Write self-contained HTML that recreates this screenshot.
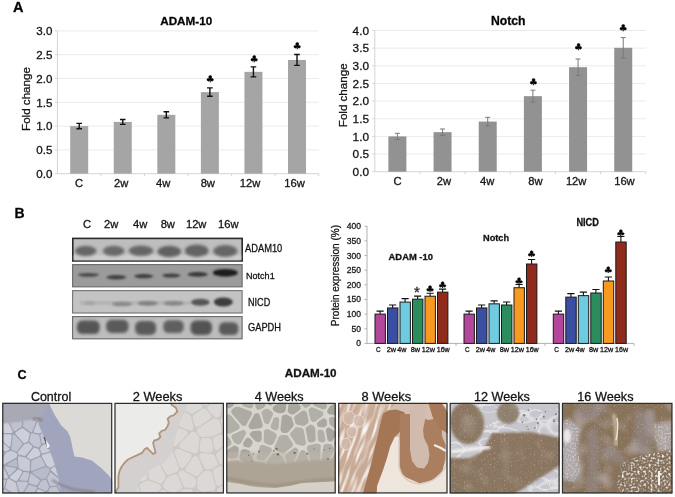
<!DOCTYPE html><html><head><meta charset="utf-8"><style>html,body{margin:0;padding:0;background:#fff;}svg{display:block;} text{stroke:#1a1a1a;stroke-width:0.3px;}</style></head><body><svg width="675" height="497" viewBox="0 0 675 497" font-family='"Liberation Sans", Arial, sans-serif'><text x="13.00" y="11.90" font-size="14.5" text-anchor="start" font-weight="bold" fill="#000" >A</text>
<line x1="57.42" y1="149.90" x2="318.78" y2="149.90" stroke="#ebebeb" stroke-width="1"/>
<line x1="57.42" y1="126.10" x2="318.78" y2="126.10" stroke="#ebebeb" stroke-width="1"/>
<line x1="57.42" y1="102.30" x2="318.78" y2="102.30" stroke="#ebebeb" stroke-width="1"/>
<line x1="57.42" y1="78.50" x2="318.78" y2="78.50" stroke="#ebebeb" stroke-width="1"/>
<line x1="57.42" y1="54.70" x2="318.78" y2="54.70" stroke="#ebebeb" stroke-width="1"/>
<line x1="57.42" y1="30.90" x2="318.78" y2="30.90" stroke="#ebebeb" stroke-width="1"/>
<line x1="57.42" y1="30.90" x2="57.42" y2="173.7" stroke="#d4d4d4" stroke-width="1"/>
<line x1="57.42" y1="173.7" x2="318.78" y2="173.7" stroke="#d4d4d4" stroke-width="1"/>
<line x1="54.92" y1="173.70" x2="57.42" y2="173.70" stroke="#d4d4d4" stroke-width="1"/>
<text x="52.40" y="177.90" font-size="11.6" text-anchor="end" font-weight="normal" fill="#111" >0.0</text>
<line x1="54.92" y1="149.90" x2="57.42" y2="149.90" stroke="#d4d4d4" stroke-width="1"/>
<text x="52.40" y="154.10" font-size="11.6" text-anchor="end" font-weight="normal" fill="#111" >0.5</text>
<line x1="54.92" y1="126.10" x2="57.42" y2="126.10" stroke="#d4d4d4" stroke-width="1"/>
<text x="52.40" y="130.30" font-size="11.6" text-anchor="end" font-weight="normal" fill="#111" >1.0</text>
<line x1="54.92" y1="102.30" x2="57.42" y2="102.30" stroke="#d4d4d4" stroke-width="1"/>
<text x="52.40" y="106.50" font-size="11.6" text-anchor="end" font-weight="normal" fill="#111" >1.5</text>
<line x1="54.92" y1="78.50" x2="57.42" y2="78.50" stroke="#d4d4d4" stroke-width="1"/>
<text x="52.40" y="82.70" font-size="11.6" text-anchor="end" font-weight="normal" fill="#111" >2.0</text>
<line x1="54.92" y1="54.70" x2="57.42" y2="54.70" stroke="#d4d4d4" stroke-width="1"/>
<text x="52.40" y="58.90" font-size="11.6" text-anchor="end" font-weight="normal" fill="#111" >2.5</text>
<line x1="54.92" y1="30.90" x2="57.42" y2="30.90" stroke="#d4d4d4" stroke-width="1"/>
<text x="52.40" y="35.10" font-size="11.6" text-anchor="end" font-weight="normal" fill="#111" >3.0</text>
<line x1="100.98" y1="173.7" x2="100.98" y2="176.2" stroke="#d4d4d4" stroke-width="1"/>
<line x1="144.54" y1="173.7" x2="144.54" y2="176.2" stroke="#d4d4d4" stroke-width="1"/>
<line x1="188.10" y1="173.7" x2="188.10" y2="176.2" stroke="#d4d4d4" stroke-width="1"/>
<line x1="231.66" y1="173.7" x2="231.66" y2="176.2" stroke="#d4d4d4" stroke-width="1"/>
<line x1="275.22" y1="173.7" x2="275.22" y2="176.2" stroke="#d4d4d4" stroke-width="1"/>
<line x1="318.78" y1="173.7" x2="318.78" y2="176.2" stroke="#d4d4d4" stroke-width="1"/>
<rect x="70.20" y="126.10" width="18" height="47.60" fill="#a5a5a5"/>
<path d="M79.20 123.39V128.81M76.40 123.39H82.00M76.40 128.81H82.00" stroke="#111" stroke-width="1.4" fill="none"/>
<text x="79.15" y="186.80" font-size="11.2" text-anchor="middle" font-weight="normal" fill="#111" >C</text>
<rect x="113.76" y="121.91" width="18" height="51.79" fill="#a5a5a5"/>
<path d="M122.76 119.44V124.39M119.96 119.44H125.56M119.96 124.39H125.56" stroke="#111" stroke-width="1.4" fill="none"/>
<text x="121.20" y="186.80" font-size="11.2" text-anchor="middle" font-weight="normal" fill="#111" >2w</text>
<rect x="157.32" y="114.82" width="18" height="58.88" fill="#a5a5a5"/>
<path d="M166.32 111.72V117.91M163.52 111.72H169.12M163.52 117.91H169.12" stroke="#111" stroke-width="1.4" fill="none"/>
<text x="163.10" y="186.80" font-size="11.2" text-anchor="middle" font-weight="normal" fill="#111" >4w</text>
<rect x="200.88" y="92.11" width="18" height="81.59" fill="#a5a5a5"/>
<path d="M209.88 87.92V96.30M207.08 87.92H212.68M207.08 96.30H212.68" stroke="#111" stroke-width="1.4" fill="none"/>
<text x="207.80" y="186.80" font-size="11.2" text-anchor="middle" font-weight="normal" fill="#111" >8w</text>
<text transform="translate(210.00,81.70) scale(1.148,1)" x="0" y="0" font-size="8.90" text-anchor="middle" font-family="DejaVu Sans, sans-serif" fill="#000">&#9827;</text>
<rect x="244.44" y="71.84" width="18" height="101.86" fill="#a5a5a5"/>
<path d="M253.44 66.84V76.83M250.64 66.84H256.24M250.64 76.83H256.24" stroke="#111" stroke-width="1.4" fill="none"/>
<text x="250.00" y="186.80" font-size="11.2" text-anchor="middle" font-weight="normal" fill="#111" >12w</text>
<text transform="translate(254.00,61.90) scale(1.148,1)" x="0" y="0" font-size="8.90" text-anchor="middle" font-family="DejaVu Sans, sans-serif" fill="#000">&#9827;</text>
<rect x="288.00" y="59.94" width="18" height="113.76" fill="#a5a5a5"/>
<path d="M297.00 54.46V65.41M294.20 54.46H299.80M294.20 65.41H299.80" stroke="#111" stroke-width="1.4" fill="none"/>
<text x="294.50" y="186.80" font-size="11.2" text-anchor="middle" font-weight="normal" fill="#111" >16w</text>
<text transform="translate(297.00,49.30) scale(1.148,1)" x="0" y="0" font-size="8.90" text-anchor="middle" font-family="DejaVu Sans, sans-serif" fill="#000">&#9827;</text>
<text x="186.20" y="24.70" font-size="11.7" text-anchor="middle" font-weight="bold" fill="#000" >ADAM-10</text>
<text transform="translate(30.4,99) rotate(-90)" font-size="11.6" text-anchor="middle" fill="#111">Fold change</text>
<line x1="374.8" y1="154.05" x2="645.82" y2="154.05" stroke="#ebebeb" stroke-width="1"/>
<line x1="374.8" y1="136.40" x2="645.82" y2="136.40" stroke="#ebebeb" stroke-width="1"/>
<line x1="374.8" y1="118.75" x2="645.82" y2="118.75" stroke="#ebebeb" stroke-width="1"/>
<line x1="374.8" y1="101.10" x2="645.82" y2="101.10" stroke="#ebebeb" stroke-width="1"/>
<line x1="374.8" y1="83.45" x2="645.82" y2="83.45" stroke="#ebebeb" stroke-width="1"/>
<line x1="374.8" y1="65.80" x2="645.82" y2="65.80" stroke="#ebebeb" stroke-width="1"/>
<line x1="374.8" y1="48.15" x2="645.82" y2="48.15" stroke="#ebebeb" stroke-width="1"/>
<line x1="374.8" y1="30.50" x2="645.82" y2="30.50" stroke="#ebebeb" stroke-width="1"/>
<line x1="374.8" y1="30.50" x2="374.8" y2="171.7" stroke="#d4d4d4" stroke-width="1"/>
<line x1="374.8" y1="171.7" x2="645.82" y2="171.7" stroke="#d4d4d4" stroke-width="1"/>
<line x1="372.3" y1="171.70" x2="374.8" y2="171.70" stroke="#d4d4d4" stroke-width="1"/>
<text x="369.00" y="175.90" font-size="11.8" text-anchor="end" font-weight="normal" fill="#111" >0.0</text>
<line x1="372.3" y1="154.05" x2="374.8" y2="154.05" stroke="#d4d4d4" stroke-width="1"/>
<text x="369.00" y="158.25" font-size="11.8" text-anchor="end" font-weight="normal" fill="#111" >0.5</text>
<line x1="372.3" y1="136.40" x2="374.8" y2="136.40" stroke="#d4d4d4" stroke-width="1"/>
<text x="369.00" y="140.60" font-size="11.8" text-anchor="end" font-weight="normal" fill="#111" >1.0</text>
<line x1="372.3" y1="118.75" x2="374.8" y2="118.75" stroke="#d4d4d4" stroke-width="1"/>
<text x="369.00" y="122.95" font-size="11.8" text-anchor="end" font-weight="normal" fill="#111" >1.5</text>
<line x1="372.3" y1="101.10" x2="374.8" y2="101.10" stroke="#d4d4d4" stroke-width="1"/>
<text x="369.00" y="105.30" font-size="11.8" text-anchor="end" font-weight="normal" fill="#111" >2.0</text>
<line x1="372.3" y1="83.45" x2="374.8" y2="83.45" stroke="#d4d4d4" stroke-width="1"/>
<text x="369.00" y="87.65" font-size="11.8" text-anchor="end" font-weight="normal" fill="#111" >2.5</text>
<line x1="372.3" y1="65.80" x2="374.8" y2="65.80" stroke="#d4d4d4" stroke-width="1"/>
<text x="369.00" y="70.00" font-size="11.8" text-anchor="end" font-weight="normal" fill="#111" >3.0</text>
<line x1="372.3" y1="48.15" x2="374.8" y2="48.15" stroke="#d4d4d4" stroke-width="1"/>
<text x="369.00" y="52.35" font-size="11.8" text-anchor="end" font-weight="normal" fill="#111" >3.5</text>
<line x1="372.3" y1="30.50" x2="374.8" y2="30.50" stroke="#d4d4d4" stroke-width="1"/>
<text x="369.00" y="34.70" font-size="11.8" text-anchor="end" font-weight="normal" fill="#111" >4.0</text>
<line x1="419.97" y1="171.7" x2="419.97" y2="174.2" stroke="#d4d4d4" stroke-width="1"/>
<line x1="465.14" y1="171.7" x2="465.14" y2="174.2" stroke="#d4d4d4" stroke-width="1"/>
<line x1="510.31" y1="171.7" x2="510.31" y2="174.2" stroke="#d4d4d4" stroke-width="1"/>
<line x1="555.48" y1="171.7" x2="555.48" y2="174.2" stroke="#d4d4d4" stroke-width="1"/>
<line x1="600.65" y1="171.7" x2="600.65" y2="174.2" stroke="#d4d4d4" stroke-width="1"/>
<line x1="645.82" y1="171.7" x2="645.82" y2="174.2" stroke="#d4d4d4" stroke-width="1"/>
<rect x="388.38" y="136.40" width="18" height="35.30" fill="#929292"/>
<path d="M397.38 133.29V139.51M394.88 133.29H399.88M394.88 139.51H399.88" stroke="#7a7a7a" stroke-width="1" fill="none"/>
<text x="397.65" y="184.50" font-size="11.2" text-anchor="middle" font-weight="normal" fill="#111" >C</text>
<rect x="433.56" y="132.16" width="18" height="39.54" fill="#929292"/>
<path d="M442.56 128.99V135.34M440.06 128.99H445.06M440.06 135.34H445.06" stroke="#7a7a7a" stroke-width="1" fill="none"/>
<text x="444.00" y="184.50" font-size="11.2" text-anchor="middle" font-weight="normal" fill="#111" >2w</text>
<rect x="478.73" y="121.57" width="18" height="50.13" fill="#929292"/>
<path d="M487.73 117.34V125.81M485.23 117.34H490.23M485.23 125.81H490.23" stroke="#7a7a7a" stroke-width="1" fill="none"/>
<text x="487.25" y="184.50" font-size="11.2" text-anchor="middle" font-weight="normal" fill="#111" >4w</text>
<rect x="523.89" y="96.16" width="18" height="75.54" fill="#929292"/>
<path d="M532.89 90.16V102.16M530.39 90.16H535.39M530.39 102.16H535.39" stroke="#7a7a7a" stroke-width="1" fill="none"/>
<text x="535.35" y="184.50" font-size="11.2" text-anchor="middle" font-weight="normal" fill="#111" >8w</text>
<text transform="translate(533.40,84.60) scale(1.148,1)" x="0" y="0" font-size="8.90" text-anchor="middle" font-family="DejaVu Sans, sans-serif" fill="#000">&#9827;</text>
<rect x="569.07" y="67.21" width="18" height="104.49" fill="#929292"/>
<path d="M578.07 58.99V75.44M575.57 58.99H580.57M575.57 75.44H580.57" stroke="#7a7a7a" stroke-width="1" fill="none"/>
<text x="576.15" y="184.50" font-size="11.2" text-anchor="middle" font-weight="normal" fill="#111" >12w</text>
<text transform="translate(578.30,50.20) scale(1.148,1)" x="0" y="0" font-size="8.90" text-anchor="middle" font-family="DejaVu Sans, sans-serif" fill="#000">&#9827;</text>
<rect x="614.24" y="47.80" width="18" height="123.90" fill="#929292"/>
<path d="M623.24 37.56V58.03M620.74 37.56H625.74M620.74 58.03H625.74" stroke="#7a7a7a" stroke-width="1" fill="none"/>
<text x="624.45" y="184.50" font-size="11.2" text-anchor="middle" font-weight="normal" fill="#111" >16w</text>
<text transform="translate(623.00,31.00) scale(1.148,1)" x="0" y="0" font-size="8.90" text-anchor="middle" font-family="DejaVu Sans, sans-serif" fill="#000">&#9827;</text>
<text x="508.20" y="24.80" font-size="12.2" text-anchor="middle" font-weight="bold" fill="#000" >Notch</text>
<text transform="translate(347.0,95.3) rotate(-90)" font-size="11.6" text-anchor="middle" fill="#111">Fold change</text>
<text x="14.50" y="217.70" font-size="14" text-anchor="start" font-weight="bold" fill="#000" >B</text>
<text x="87.10" y="227.60" font-size="11.2" text-anchor="middle" font-weight="normal" fill="#111" >C</text>
<text x="111.20" y="227.60" font-size="11.2" text-anchor="middle" font-weight="normal" fill="#111" >2w</text>
<text x="140.20" y="227.60" font-size="11.2" text-anchor="middle" font-weight="normal" fill="#111" >4w</text>
<text x="167.80" y="227.60" font-size="11.2" text-anchor="middle" font-weight="normal" fill="#111" >8w</text>
<text x="196.20" y="227.60" font-size="11.2" text-anchor="middle" font-weight="normal" fill="#111" >12w</text>
<text x="228.30" y="227.60" font-size="11.2" text-anchor="middle" font-weight="normal" fill="#111" >16w</text>
<defs><filter id="b1" x="-50%" y="-50%" width="200%" height="200%"><feGaussianBlur stdDeviation="1.6"/></filter><filter id="b2" x="-50%" y="-50%" width="200%" height="200%"><feGaussianBlur stdDeviation="1.0"/></filter><filter id="b3" x="-50%" y="-50%" width="200%" height="200%"><feGaussianBlur stdDeviation="2.2"/></filter><filter id="b05" x="-50%" y="-50%" width="200%" height="200%"><feGaussianBlur stdDeviation="0.6"/></filter></defs>
<rect x="72.80" y="238.40" width="169.40" height="22.60" fill="#bebebe" stroke="#2a2a2a" stroke-width="1.6"/>
<rect x="74" y="255" width="167" height="5" fill="#cdcdcd" filter="url(#b2)"/>
<ellipse cx="85.7" cy="250.9" rx="10.8" ry="5.2" fill="#666666" filter="url(#b1)"/>
<ellipse cx="113.7" cy="250.9" rx="10.8" ry="5.2" fill="#696969" filter="url(#b1)"/>
<ellipse cx="141" cy="250.7" rx="12.2" ry="5.2" fill="#666666" filter="url(#b1)"/>
<ellipse cx="169.3" cy="251.5" rx="11.8" ry="5.8" fill="#606060" filter="url(#b1)"/>
<ellipse cx="196.7" cy="250.7" rx="11.8" ry="6.2" fill="#636363" filter="url(#b1)"/>
<ellipse cx="225.3" cy="251" rx="12" ry="6.0" fill="#666666" filter="url(#b1)"/>
<rect x="72.60" y="264.60" width="169.50" height="22.20" fill="#9b9b9b" stroke="#6e6e6e" stroke-width="1.2"/>
<ellipse cx="88.5" cy="274.8" rx="10.5" ry="1.9" fill="#4a4a4a" filter="url(#b2)"/>
<ellipse cx="116.3" cy="277.2" rx="10" ry="2.2" fill="#404040" filter="url(#b2)"/>
<ellipse cx="143.7" cy="276.2" rx="9.5" ry="2.1" fill="#3e3e3e" filter="url(#b2)"/>
<ellipse cx="171.3" cy="275.5" rx="9" ry="2.0" fill="#404040" filter="url(#b2)"/>
<ellipse cx="197.7" cy="274.4" rx="10" ry="2.4" fill="#383838" filter="url(#b2)"/>
<ellipse cx="225.3" cy="272.8" rx="12.5" ry="3.9" fill="#1e1e1e" filter="url(#b2)"/>
<rect x="72.60" y="290.60" width="169.50" height="22.40" fill="#c3c3c3" stroke="#7a7a7a" stroke-width="1.2"/>
<rect x="80" y="301.5" width="110" height="3" fill="#b0b0b0" filter="url(#b2)"/>
<ellipse cx="89.7" cy="303" rx="5" ry="2.0" fill="#a4a4a4" filter="url(#b2)"/>
<ellipse cx="122" cy="304" rx="10" ry="2.3" fill="#8a8a8a" filter="url(#b2)"/>
<ellipse cx="147.6" cy="303.3" rx="10" ry="2.4" fill="#828282" filter="url(#b2)"/>
<ellipse cx="173.7" cy="303.3" rx="10" ry="2.4" fill="#878787" filter="url(#b2)"/>
<ellipse cx="200.3" cy="302.3" rx="9.5" ry="3.5" fill="#575757" filter="url(#b2)"/>
<ellipse cx="223.3" cy="302" rx="9.5" ry="4.5" fill="#3c3c3c" filter="url(#b2)"/>
<rect x="72.60" y="316.60" width="169.50" height="22.20" fill="#bdbdbd" stroke="#6e6e6e" stroke-width="1.2"/>
<rect x="76.89999999999999" y="320.5" width="22.8" height="13.6" rx="5.44" fill="#555555" filter="url(#b1)"/>
<rect x="106.1" y="319.7" width="22.4" height="13.2" rx="5.28" fill="#5a5a5a" filter="url(#b1)"/>
<rect x="135.1" y="321.1" width="21.0" height="13.8" rx="5.5200000000000005" fill="#5a5a5a" filter="url(#b1)"/>
<rect x="163.3" y="320.3" width="20.4" height="12.8" rx="5.120000000000001" fill="#5e5e5e" filter="url(#b1)"/>
<rect x="190.5" y="320.5" width="21.4" height="14.4" rx="5.760000000000001" fill="#525252" filter="url(#b1)"/>
<rect x="219.0" y="322.3" width="19.4" height="12.8" rx="5.120000000000001" fill="#5a5a5a" filter="url(#b1)"/>
<text x="245.00" y="252.00" font-size="10.4" font-weight="normal" fill="#111" textLength="37.30" lengthAdjust="spacingAndGlyphs">ADAM10</text>
<text x="246.00" y="279.40" font-size="9.6" font-weight="normal" fill="#111" textLength="28.70" lengthAdjust="spacingAndGlyphs">Notch1</text>
<text x="248.00" y="305.60" font-size="10.5" font-weight="normal" fill="#111" textLength="22.20" lengthAdjust="spacingAndGlyphs">NICD</text>
<text x="248.00" y="330.70" font-size="10.5" font-weight="normal" fill="#111" textLength="33.00" lengthAdjust="spacingAndGlyphs">GAPDH</text>
<line x1="367.0" y1="226" x2="367.0" y2="343.4" stroke="#a8a8a8" stroke-width="0.9"/>
<line x1="367.0" y1="343.4" x2="634" y2="343.4" stroke="#a8a8a8" stroke-width="0.9"/>
<line x1="364.5" y1="343.40" x2="367.0" y2="343.40" stroke="#a8a8a8" stroke-width="0.9"/>
<text x="361.00" y="346.40" font-size="8.5" text-anchor="end" font-weight="normal" fill="#222" >0</text>
<line x1="364.5" y1="328.75" x2="367.0" y2="328.75" stroke="#a8a8a8" stroke-width="0.9"/>
<text x="361.00" y="331.75" font-size="8.5" text-anchor="end" font-weight="normal" fill="#222" >50</text>
<line x1="364.5" y1="314.10" x2="367.0" y2="314.10" stroke="#a8a8a8" stroke-width="0.9"/>
<text x="361.00" y="317.10" font-size="8.5" text-anchor="end" font-weight="normal" fill="#222" >100</text>
<line x1="364.5" y1="299.45" x2="367.0" y2="299.45" stroke="#a8a8a8" stroke-width="0.9"/>
<text x="361.00" y="302.45" font-size="8.5" text-anchor="end" font-weight="normal" fill="#222" >150</text>
<line x1="364.5" y1="284.80" x2="367.0" y2="284.80" stroke="#a8a8a8" stroke-width="0.9"/>
<text x="361.00" y="287.80" font-size="8.5" text-anchor="end" font-weight="normal" fill="#222" >200</text>
<line x1="364.5" y1="270.15" x2="367.0" y2="270.15" stroke="#a8a8a8" stroke-width="0.9"/>
<text x="361.00" y="273.15" font-size="8.5" text-anchor="end" font-weight="normal" fill="#222" >250</text>
<line x1="364.5" y1="255.50" x2="367.0" y2="255.50" stroke="#a8a8a8" stroke-width="0.9"/>
<text x="361.00" y="258.50" font-size="8.5" text-anchor="end" font-weight="normal" fill="#222" >300</text>
<line x1="364.5" y1="240.85" x2="367.0" y2="240.85" stroke="#a8a8a8" stroke-width="0.9"/>
<text x="361.00" y="243.85" font-size="8.5" text-anchor="end" font-weight="normal" fill="#222" >350</text>
<line x1="364.5" y1="226.20" x2="367.0" y2="226.20" stroke="#a8a8a8" stroke-width="0.9"/>
<text x="361.00" y="229.20" font-size="8.5" text-anchor="end" font-weight="normal" fill="#222" >400</text>
<line x1="456.0" y1="343.4" x2="456.0" y2="345.9" stroke="#a8a8a8" stroke-width="0.9"/>
<line x1="545.0" y1="343.4" x2="545.0" y2="345.9" stroke="#a8a8a8" stroke-width="0.9"/>
<line x1="634.0" y1="343.4" x2="634.0" y2="345.9" stroke="#a8a8a8" stroke-width="0.9"/>
<path d="M380.10 314.10V311.10M376.50 311.10H383.70" stroke="#111" stroke-width="1.1" fill="none"/>
<rect x="375.00" y="314.10" width="10.4" height="29.30" fill="#b2479c" stroke="#1a1a1a" stroke-width="1"/>
<path d="M392.60 307.95V304.95M389.00 304.95H396.20" stroke="#111" stroke-width="1.1" fill="none"/>
<rect x="387.50" y="307.95" width="10.4" height="35.45" fill="#3a4ea2" stroke="#1a1a1a" stroke-width="1"/>
<path d="M405.10 302.09V298.59M401.50 298.59H408.70" stroke="#111" stroke-width="1.1" fill="none"/>
<rect x="400.00" y="302.09" width="10.4" height="41.31" fill="#6fcbe0" stroke="#1a1a1a" stroke-width="1"/>
<path d="M417.60 299.16V296.16M414.00 296.16H421.20" stroke="#111" stroke-width="1.1" fill="none"/>
<rect x="412.50" y="299.16" width="10.4" height="44.24" fill="#2b8d5e" stroke="#1a1a1a" stroke-width="1"/>
<path d="M430.10 296.23V293.23M426.50 293.23H433.70" stroke="#111" stroke-width="1.1" fill="none"/>
<rect x="425.00" y="296.23" width="10.4" height="47.17" fill="#f89a1f" stroke="#1a1a1a" stroke-width="1"/>
<text transform="translate(430.10,292.20) scale(1.204,1)" x="0" y="0" font-size="8.49" text-anchor="middle" font-family="DejaVu Sans, sans-serif" fill="#000">&#9827;</text>
<path d="M442.60 292.12V289.12M439.00 289.12H446.20" stroke="#111" stroke-width="1.1" fill="none"/>
<rect x="437.50" y="292.12" width="10.4" height="51.27" fill="#8e2b1d" stroke="#1a1a1a" stroke-width="1"/>
<text transform="translate(442.60,287.50) scale(1.204,1)" x="0" y="0" font-size="8.49" text-anchor="middle" font-family="DejaVu Sans, sans-serif" fill="#000">&#9827;</text>
<text x="376.00" y="352.40" font-size="7.2" font-weight="normal" fill="#111" textLength="4.70" lengthAdjust="spacingAndGlyphs">C</text>
<text x="386.70" y="352.40" font-size="7.2" font-weight="normal" fill="#111" textLength="9.30" lengthAdjust="spacingAndGlyphs">2w</text>
<text x="397.30" y="352.40" font-size="7.2" font-weight="normal" fill="#111" textLength="9.10" lengthAdjust="spacingAndGlyphs">4w</text>
<text x="410.70" y="352.40" font-size="7.2" font-weight="normal" fill="#111" textLength="9.30" lengthAdjust="spacingAndGlyphs">8w</text>
<text x="421.70" y="352.40" font-size="7.2" font-weight="normal" fill="#111" textLength="13.20" lengthAdjust="spacingAndGlyphs">12w</text>
<text x="436.70" y="352.40" font-size="7.2" font-weight="normal" fill="#111" textLength="13.00" lengthAdjust="spacingAndGlyphs">16w</text>
<path d="M469.10 314.10V311.10M465.50 311.10H472.70" stroke="#111" stroke-width="1.1" fill="none"/>
<rect x="464.00" y="314.10" width="10.4" height="29.30" fill="#b2479c" stroke="#1a1a1a" stroke-width="1"/>
<path d="M481.60 307.95V304.95M478.00 304.95H485.20" stroke="#111" stroke-width="1.1" fill="none"/>
<rect x="476.50" y="307.95" width="10.4" height="35.45" fill="#3a4ea2" stroke="#1a1a1a" stroke-width="1"/>
<path d="M494.10 303.84V300.84M490.50 300.84H497.70" stroke="#111" stroke-width="1.1" fill="none"/>
<rect x="489.00" y="303.84" width="10.4" height="39.56" fill="#6fcbe0" stroke="#1a1a1a" stroke-width="1"/>
<path d="M506.60 305.02V302.02M503.00 302.02H510.20" stroke="#111" stroke-width="1.1" fill="none"/>
<rect x="501.50" y="305.02" width="10.4" height="38.38" fill="#2b8d5e" stroke="#1a1a1a" stroke-width="1"/>
<path d="M519.10 287.73V284.43M515.50 284.43H522.70" stroke="#111" stroke-width="1.1" fill="none"/>
<rect x="514.00" y="287.73" width="10.4" height="55.67" fill="#f89a1f" stroke="#1a1a1a" stroke-width="1"/>
<text transform="translate(519.10,284.20) scale(1.204,1)" x="0" y="0" font-size="8.49" text-anchor="middle" font-family="DejaVu Sans, sans-serif" fill="#000">&#9827;</text>
<path d="M531.60 264.00V259.50M528.00 259.50H535.20" stroke="#111" stroke-width="1.1" fill="none"/>
<rect x="526.50" y="264.00" width="10.4" height="79.40" fill="#8e2b1d" stroke="#1a1a1a" stroke-width="1"/>
<text transform="translate(531.60,256.60) scale(1.204,1)" x="0" y="0" font-size="8.49" text-anchor="middle" font-family="DejaVu Sans, sans-serif" fill="#000">&#9827;</text>
<text x="465.00" y="352.40" font-size="7.2" font-weight="normal" fill="#111" textLength="4.70" lengthAdjust="spacingAndGlyphs">C</text>
<text x="475.70" y="352.40" font-size="7.2" font-weight="normal" fill="#111" textLength="9.30" lengthAdjust="spacingAndGlyphs">2w</text>
<text x="486.30" y="352.40" font-size="7.2" font-weight="normal" fill="#111" textLength="9.10" lengthAdjust="spacingAndGlyphs">4w</text>
<text x="499.70" y="352.40" font-size="7.2" font-weight="normal" fill="#111" textLength="9.30" lengthAdjust="spacingAndGlyphs">8w</text>
<text x="510.70" y="352.40" font-size="7.2" font-weight="normal" fill="#111" textLength="13.20" lengthAdjust="spacingAndGlyphs">12w</text>
<text x="525.70" y="352.40" font-size="7.2" font-weight="normal" fill="#111" textLength="13.00" lengthAdjust="spacingAndGlyphs">16w</text>
<path d="M558.40 314.10V311.10M554.80 311.10H562.00" stroke="#111" stroke-width="1.1" fill="none"/>
<rect x="553.30" y="314.10" width="10.4" height="29.30" fill="#b2479c" stroke="#1a1a1a" stroke-width="1"/>
<path d="M570.90 297.11V293.61M567.30 293.61H574.50" stroke="#111" stroke-width="1.1" fill="none"/>
<rect x="565.80" y="297.11" width="10.4" height="46.29" fill="#3a4ea2" stroke="#1a1a1a" stroke-width="1"/>
<path d="M583.40 295.64V292.14M579.80 292.14H587.00" stroke="#111" stroke-width="1.1" fill="none"/>
<rect x="578.30" y="295.64" width="10.4" height="47.76" fill="#6fcbe0" stroke="#1a1a1a" stroke-width="1"/>
<path d="M595.90 293.00V289.50M592.30 289.50H599.50" stroke="#111" stroke-width="1.1" fill="none"/>
<rect x="590.80" y="293.00" width="10.4" height="50.40" fill="#2b8d5e" stroke="#1a1a1a" stroke-width="1"/>
<path d="M608.40 280.99V276.99M604.80 276.99H612.00" stroke="#111" stroke-width="1.1" fill="none"/>
<rect x="603.30" y="280.99" width="10.4" height="62.41" fill="#f89a1f" stroke="#1a1a1a" stroke-width="1"/>
<text transform="translate(608.40,272.90) scale(1.204,1)" x="0" y="0" font-size="8.49" text-anchor="middle" font-family="DejaVu Sans, sans-serif" fill="#000">&#9827;</text>
<path d="M620.90 242.02V236.52M617.30 236.52H624.50" stroke="#111" stroke-width="1.1" fill="none"/>
<rect x="615.80" y="242.02" width="10.4" height="101.38" fill="#8e2b1d" stroke="#1a1a1a" stroke-width="1"/>
<text transform="translate(620.90,236.20) scale(1.204,1)" x="0" y="0" font-size="8.49" text-anchor="middle" font-family="DejaVu Sans, sans-serif" fill="#000">&#9827;</text>
<text x="554.30" y="352.40" font-size="7.2" font-weight="normal" fill="#111" textLength="4.70" lengthAdjust="spacingAndGlyphs">C</text>
<text x="565.00" y="352.40" font-size="7.2" font-weight="normal" fill="#111" textLength="9.30" lengthAdjust="spacingAndGlyphs">2w</text>
<text x="575.60" y="352.40" font-size="7.2" font-weight="normal" fill="#111" textLength="9.10" lengthAdjust="spacingAndGlyphs">4w</text>
<text x="589.00" y="352.40" font-size="7.2" font-weight="normal" fill="#111" textLength="9.30" lengthAdjust="spacingAndGlyphs">8w</text>
<text x="600.00" y="352.40" font-size="7.2" font-weight="normal" fill="#111" textLength="13.20" lengthAdjust="spacingAndGlyphs">12w</text>
<text x="615.00" y="352.40" font-size="7.2" font-weight="normal" fill="#111" textLength="13.00" lengthAdjust="spacingAndGlyphs">16w</text>
<text x="417.00" y="297.30" font-size="15" text-anchor="middle" font-weight="normal" fill="#333" >*</text>
<text x="388.60" y="259.50" font-size="9.2" font-weight="bold" fill="#111" textLength="44.30" lengthAdjust="spacingAndGlyphs">ADAM -10</text>
<text x="483.00" y="240.80" font-size="9.6" font-weight="bold" fill="#111" textLength="26.10" lengthAdjust="spacingAndGlyphs">Notch</text>
<text x="576.40" y="225.90" font-size="10.4" font-weight="bold" fill="#111" textLength="22.50" lengthAdjust="spacingAndGlyphs">NICD</text>
<text transform="translate(339.3,275.6) rotate(-90)" font-size="10" text-anchor="middle" fill="#111">Protein expression (%)</text>
<text x="17.60" y="379.30" font-size="12.6" text-anchor="start" font-weight="bold" fill="#000" >C</text>
<text x="284.80" y="377.30" font-size="11.5" font-weight="bold" fill="#111" textLength="51.80" lengthAdjust="spacingAndGlyphs">ADAM-10</text>
<text x="30.90" y="400.70" font-size="12.8" font-weight="normal" fill="#111" textLength="40.30" lengthAdjust="spacingAndGlyphs">Control</text>
<text x="132.70" y="400.70" font-size="12.8" font-weight="normal" fill="#111" textLength="49.80" lengthAdjust="spacingAndGlyphs">2 Weeks</text>
<text x="254.70" y="400.70" font-size="12.8" font-weight="normal" fill="#111" textLength="49.00" lengthAdjust="spacingAndGlyphs">4 Weeks</text>
<text x="361.50" y="400.70" font-size="12.8" font-weight="normal" fill="#111" textLength="49.60" lengthAdjust="spacingAndGlyphs">8 Weeks</text>
<text x="474.00" y="400.70" font-size="12.8" font-weight="normal" fill="#111" textLength="55.90" lengthAdjust="spacingAndGlyphs">12 Weeks</text>
<text x="577.30" y="400.70" font-size="12.8" font-weight="normal" fill="#111" textLength="56.20" lengthAdjust="spacingAndGlyphs">16 Weeks</text>
<defs>
<clipPath id="cp0"><rect x="2.20" y="402.8" width="110.10" height="90.70"/></clipPath>
<clipPath id="cp1"><rect x="114.40" y="402.8" width="109.60" height="90.70"/></clipPath>
<clipPath id="cp2"><rect x="226.20" y="402.8" width="109.60" height="90.70"/></clipPath>
<clipPath id="cp3"><rect x="338.10" y="402.8" width="109.50" height="90.70"/></clipPath>
<clipPath id="cp4"><rect x="449.60" y="402.8" width="110.10" height="90.70"/></clipPath>
<clipPath id="cp5"><rect x="561.90" y="402.8" width="110.60" height="90.70"/></clipPath>
<filter id="h1" x="-20%" y="-20%" width="140%" height="140%"><feGaussianBlur stdDeviation="1.0"/></filter>
<filter id="h2" x="-20%" y="-20%" width="140%" height="140%"><feGaussianBlur stdDeviation="2.5"/></filter>
<filter id="h05" x="-20%" y="-20%" width="140%" height="140%"><feGaussianBlur stdDeviation="0.5"/></filter>
<filter id="sp_w" x="0" y="0" width="100%" height="100%"><feTurbulence type="fractalNoise" baseFrequency="0.5" numOctaves="1" seed="2"/><feColorMatrix type="matrix" values="0 0 0 0 1.000  0 0 0 0 1.000  0 0 0 0 1.000  4 0 0 0 -2.5"/></filter>
<filter id="sp_w2" x="0" y="0" width="100%" height="100%"><feTurbulence type="fractalNoise" baseFrequency="0.35" numOctaves="1" seed="9"/><feColorMatrix type="matrix" values="0 0 0 0 0.957  0 0 0 0 0.941  0 0 0 0 0.918  4 0 0 0 -2.3"/></filter>
<filter id="vn_w" x="0" y="0" width="100%" height="100%"><feTurbulence type="turbulence" baseFrequency="0.07 0.08" numOctaves="1" seed="5"/><feColorMatrix type="matrix" values="0 0 0 0 0.871  0 0 0 0 0.863  0 0 0 0 0.843  -16 0 0 0 1.3"/></filter>
<filter id="vn_c0" x="0" y="0" width="100%" height="100%"><feTurbulence type="turbulence" baseFrequency="0.11 0.045" numOctaves="1" seed="3"/><feColorMatrix type="matrix" values="0 0 0 0 0.875  0 0 0 0 0.882  0 0 0 0 0.918  -9 0 0 0 1.0"/></filter>
<filter id="vn_t" x="0" y="0" width="100%" height="100%"><feTurbulence type="turbulence" baseFrequency="0.07 0.1" numOctaves="1" seed="11"/><feColorMatrix type="matrix" values="0 0 0 0 0.949  0 0 0 0 0.922  0 0 0 0 0.902  -12 0 0 0 1.2"/></filter>
<filter id="mt_b" x="0" y="0" width="100%" height="100%"><feTurbulence type="fractalNoise" baseFrequency="0.05" numOctaves="1" seed="7"/><feColorMatrix type="matrix" values="0 0 0 0 0.431  0 0 0 0 0.353  0 0 0 0 0.267  3 0 0 0 -1.5"/></filter>
<filter id="mt_v" x="0" y="0" width="100%" height="100%"><feTurbulence type="fractalNoise" baseFrequency="0.04" numOctaves="1" seed="4"/><feColorMatrix type="matrix" values="0 0 0 0 0.659  0 0 0 0 0.643  0 0 0 0 0.706  3 0 0 0 -1.4"/></filter>
<filter id="mt_d" x="0" y="0" width="100%" height="100%"><feTurbulence type="fractalNoise" baseFrequency="0.08" numOctaves="1" seed="13"/><feColorMatrix type="matrix" values="0 0 0 0 0.424  0 0 0 0 0.353  0 0 0 0 0.275  3 0 0 0 -1.5"/></filter>
<filter id="sp_d" x="0" y="0" width="100%" height="100%"><feTurbulence type="fractalNoise" baseFrequency="0.7" numOctaves="1" seed="17"/><feColorMatrix type="matrix" values="0 0 0 0 0.722  0 0 0 0 0.659  0 0 0 0 0.565  4 0 0 0 -2.45"/></filter>
<filter id="sp_w3" x="0" y="0" width="100%" height="100%"><feTurbulence type="fractalNoise" baseFrequency="0.6" numOctaves="1" seed="23"/><feColorMatrix type="matrix" values="0 0 0 0 0.965  0 0 0 0 0.957  0 0 0 0 0.949  4 0 0 0 -1.9"/></filter>
<filter id="vn_s" x="0" y="0" width="100%" height="100%"><feTurbulence type="turbulence" baseFrequency="0.05 0.09" numOctaves="1" seed="31"/><feColorMatrix type="matrix" values="0 0 0 0 0.933  0 0 0 0 0.933  0 0 0 0 0.941  -8 0 0 0 0.8"/></filter>
<filter id="cw_w" x="0" y="0" width="100%" height="100%"><feTurbulence type="fractalNoise" baseFrequency="0.45" numOctaves="1" seed="61"/><feColorMatrix type="matrix" values="0 0 0 0 0.902  0 0 0 0 0.886  0 0 0 0 0.871  3.4 0 0 0 -1.6"/></filter>
<filter id="mt_g" x="0" y="0" width="100%" height="100%"><feTurbulence type="fractalNoise" baseFrequency="0.07" numOctaves="1" seed="51"/><feColorMatrix type="matrix" values="0 0 0 0 0.604  0 0 0 0 0.576  0 0 0 0 0.627  3.2 0 0 0 -1.55"/></filter>
<filter id="fib_w" x="0" y="0" width="100%" height="100%"><feTurbulence type="fractalNoise" baseFrequency="0.32 0.05" numOctaves="1" seed="41"/><feColorMatrix type="matrix" values="0 0 0 0 0.949  0 0 0 0 0.918  0 0 0 0 0.894  3.6 0 0 0 -1.6"/></filter>
<filter id="fib_b" x="0" y="0" width="100%" height="100%"><feTurbulence type="fractalNoise" baseFrequency="0.3 0.05" numOctaves="1" seed="43"/><feColorMatrix type="matrix" values="0 0 0 0 0.635  0 0 0 0 0.463  0 0 0 0 0.345  3.4 0 0 0 -1.65"/></filter>
<filter id="vn_g" x="0" y="0" width="100%" height="100%"><feTurbulence type="turbulence" baseFrequency="0.035 0.045" numOctaves="1" seed="19"/><feColorMatrix type="matrix" values="0 0 0 0 0.616  0 0 0 0 0.588  0 0 0 0 0.627  -7 0 0 0 1.0"/></filter>
<filter id="mt_cw" x="0" y="0" width="100%" height="100%"><feTurbulence type="fractalNoise" baseFrequency="0.22 0.1" numOctaves="1" seed="21"/><feColorMatrix type="matrix" values="0 0 0 0 0.831  0 0 0 0 0.839  0 0 0 0 0.878  3.0 0 0 0 -1.4"/></filter>
<filter id="vn_cd" x="0" y="0" width="100%" height="100%"><feTurbulence type="turbulence" baseFrequency="0.13 0.05" numOctaves="1" seed="8"/><feColorMatrix type="matrix" values="0 0 0 0 0.549  0 0 0 0 0.565  0 0 0 0 0.643  -10 0 0 0 0.9"/></filter>
</defs>
<g clip-path="url(#cp0)"><rect x="2.2" y="402.8" width="110.10" height="90.70" fill="#dbdad6" /><path d="M48.5 402.0 L48.8 403.0 L54.0 413.7 L61.0 425.3 L67.4 431.2 L70.3 437.0 L72.7 448.7 L74.5 456.6 L82.0 457.6 L91.8 460.5 L101.5 468.3 L109.3 476.1 L113.0 482.0 L113.0 495.0 L0.0 495.0 L0.0 402.0 Z" fill="#a0a5bd" filter="url(#h05)"/><path d="M0.0 423.0 L20.0 421.0 L37.1 417.6 L39.0 425.4 L44.9 439.0 L48.8 448.8 L52.7 458.6 L55.6 468.3 L58.6 478.1 L60.5 495.0 L0.0 495.0 Z" fill="#aaaebe" filter="url(#h1)"/><clipPath id="c0m"><path d="M0.0 423.0 L20.0 421.0 L37.1 417.6 L39.0 425.4 L44.9 439.0 L48.8 448.8 L52.7 458.6 L55.6 468.3 L58.6 478.1 L60.5 495.0 L0.0 495.0 Z"/></clipPath><g clip-path="url(#c0m)"><rect x="0" y="402" width="70" height="95" fill="#9ea1b2"/><path d="M0.0,421.4 3.2,419.3 4.1,413.0 -2.0,413.0 -2.0,421.2 0.0,421.4Z" fill="#b8bbc9"/><path d="M4.4,418.6 5.0,419.7 8.6,420.9 14.9,418.0 15.4,416.8 12.1,413.0 5.3,413.0 4.4,418.6Z" fill="#b8bbc9"/><path d="M20.2,417.6 21.5,416.8 21.5,413.0 13.6,413.0 17.4,416.9 20.2,417.6Z" fill="#c3c6d2"/><path d="M22.7,417.3 23.8,418.5 28.6,417.2 31.0,413.0 22.6,413.0 22.7,417.3Z" fill="#c9cbd6"/><path d="M30.6,416.2 30.9,417.8 36.9,420.6 39.0,420.2 39.7,419.5 38.5,413.0 32.2,413.0 30.6,416.2Z" fill="#cdd0da"/><path d="M40.9,419.2 41.6,420.1 42.9,420.2 47.1,417.3 47.2,416.1 45.7,413.0 39.6,413.0 40.9,419.2Z" fill="#b8bbc9"/><path d="M48.3,415.8 49.4,416.5 53.0,416.0 53.6,415.3 53.9,413.0 46.9,413.0 48.3,415.8Z" fill="#b8bbc9"/><path d="M54.7,415.9 55.5,417.2 63.1,422.7 64.7,422.3 64.9,421.3 62.3,413.0 55.0,413.0 54.7,415.9Z" fill="#c9cbd6"/><path d="M65.6,419.8 66.6,420.7 68.0,419.9 68.0,413.0 63.5,413.0 65.6,419.8Z" fill="#b8bbc9"/><path d="M0.2,423.3 -0.5,422.5 -2.0,422.3 -2.0,437.1 1.9,433.3 0.2,423.3Z" fill="#c9cbd6"/><path d="M11.7,433.1 12.6,432.6 12.7,431.5 8.2,422.2 4.0,420.6 1.6,421.9 1.2,423.1 3.2,432.9 11.7,433.1Z" fill="#cdd0da"/><path d="M13.5,430.7 15.1,431.2 21.7,426.7 22.2,420.2 21.7,419.2 17.1,418.2 9.9,421.7 9.8,422.8 13.5,430.7Z" fill="#bfc2cf"/><path d="M15.7,432.2 15.4,433.8 23.4,442.7 24.5,442.9 27.8,441.5 29.8,434.0 29.3,432.9 22.4,428.0 15.7,432.2Z" fill="#cdd0da"/><path d="M29.5,418.3 23.6,419.9 23.0,426.4 31.1,432.4 32.1,431.6 36.0,422.1 35.4,421.1 29.5,418.3Z" fill="#bfc2cf"/><path d="M40.8,421.0 37.3,422.2 33.6,430.9 34.2,432.4 39.6,433.5 45.2,430.4 45.3,429.4 42.6,421.9 40.8,421.0Z" fill="#c9cbd6"/><path d="M48.7,417.6 43.8,421.4 45.6,427.2 46.5,427.9 47.7,427.5 53.6,418.7 53.4,417.8 52.6,417.3 48.7,417.6Z" fill="#bfc2cf"/><path d="M47.8,429.3 48.2,430.9 52.3,432.9 53.2,432.9 61.5,424.4 61.6,423.2 56.1,419.0 55.1,418.9 47.8,429.3Z" fill="#c3c6d2"/><path d="M54.7,439.4 55.3,440.2 62.4,442.3 68.0,439.2 68.0,436.9 64.2,424.7 62.7,424.8 54.0,433.9 54.7,439.4Z" fill="#cdd0da"/><path d="M67.7,424.6 66.6,424.5 65.9,425.6 68.0,433.0 67.7,424.6Z" fill="#c9cbd6"/><path d="M9.0,448.3 -2.0,438.5 -2.0,448.2 5.2,451.6 8.9,450.0 9.3,449.2 9.0,448.3Z" fill="#cdd0da"/><path d="M11.7,435.5 10.6,434.3 3.0,434.3 -0.1,436.9 -0.4,438.0 8.6,446.4 9.6,446.7 10.6,445.8 11.7,435.5Z" fill="#cdd0da"/><path d="M11.4,448.6 12.0,449.7 15.9,451.6 16.8,451.5 22.6,444.1 22.3,443.1 14.3,434.4 13.3,434.6 12.8,435.4 11.4,448.6Z" fill="#bfc2cf"/><path d="M32.2,447.4 32.1,446.0 28.5,443.0 24.3,444.2 17.9,452.1 17.7,453.4 18.8,454.8 25.3,456.0 32.2,447.4Z" fill="#c9cbd6"/><path d="M33.8,446.0 38.7,447.6 40.9,444.5 39.1,434.9 32.3,433.2 30.9,434.1 29.1,441.6 33.8,446.0Z" fill="#c3c6d2"/><path d="M40.9,434.1 40.4,435.3 41.7,442.9 42.4,443.7 52.7,440.1 53.3,439.5 52.4,434.3 46.9,431.5 45.9,431.5 40.9,434.1Z" fill="#c3c6d2"/><path d="M41.2,452.9 42.5,453.5 51.9,451.0 53.6,442.9 53.3,441.9 52.1,441.5 41.8,445.5 39.9,448.7 41.2,452.9Z" fill="#c9cbd6"/><path d="M56.2,441.6 54.8,442.5 53.8,450.5 54.5,451.0 63.0,452.1 63.8,450.6 62.1,443.7 56.2,441.6Z" fill="#b8bbc9"/><path d="M63.9,442.9 63.4,444.0 64.8,449.9 65.6,450.5 68.0,450.6 68.0,440.5 63.9,442.9Z" fill="#cdd0da"/><path d="M-1.7,463.1 -0.9,462.5 4.1,453.0 3.6,452.1 -2.0,449.4 -1.7,463.1Z" fill="#c3c6d2"/><path d="M2.6,464.7 3.6,464.6 16.5,457.6 17.3,455.3 16.4,453.1 11.0,450.5 5.8,452.8 0.4,462.4 0.7,463.7 2.6,464.7Z" fill="#c9cbd6"/><path d="M16.1,467.1 17.0,466.8 17.4,465.9 16.9,460.4 16.2,459.6 15.1,459.6 7.6,464.0 7.6,464.9 8.3,465.6 16.1,467.1Z" fill="#b8bbc9"/><path d="M18.7,467.5 19.2,468.3 23.4,470.6 29.1,471.2 29.7,470.2 29.9,460.6 25.3,457.4 18.5,456.3 17.8,458.0 18.7,467.5Z" fill="#c9cbd6"/><path d="M39.9,455.4 40.4,454.1 38.7,449.2 34.0,447.4 26.9,456.6 27.4,457.5 30.9,459.6 39.9,455.4Z" fill="#cdd0da"/><path d="M41.2,457.2 39.7,456.7 31.4,460.8 30.8,469.5 31.3,470.5 32.4,470.7 44.9,465.9 45.0,464.8 41.2,457.2Z" fill="#bfc2cf"/><path d="M42.6,454.7 41.9,455.3 41.9,456.2 47.0,465.9 50.5,467.7 55.6,464.4 55.8,463.2 52.0,452.7 51.0,452.5 42.6,454.7Z" fill="#cdd0da"/><path d="M55.0,452.2 54.0,452.7 53.8,453.8 56.5,461.9 58.0,462.5 58.7,461.8 61.5,453.9 60.7,453.2 55.0,452.2Z" fill="#b8bbc9"/><path d="M59.6,462.6 60.4,464.1 66.3,465.9 68.0,465.6 68.0,458.7 64.5,454.0 63.5,453.9 62.8,454.5 59.6,462.6Z" fill="#b8bbc9"/><path d="M68.0,451.7 65.7,452.2 65.5,453.2 68.0,456.8 68.0,451.7Z" fill="#cdd0da"/><path d="M-0.6,464.3 -2.0,464.7 -2.0,477.4 6.8,478.7 7.9,477.8 8.0,476.8 2.7,466.2 -0.6,464.3Z" fill="#c9cbd6"/><path d="M6.0,466.3 5.0,466.7 4.8,467.8 9.0,475.4 10.1,475.2 16.0,469.6 15.9,468.6 15.2,468.1 6.0,466.3Z" fill="#c3c6d2"/><path d="M10.3,476.5 10.0,477.3 10.5,478.2 15.5,481.1 16.4,481.1 17.8,480.1 22.0,472.4 22.0,471.4 19.0,469.5 18.1,469.5 10.3,476.5Z" fill="#cdd0da"/><path d="M29.2,473.7 28.3,472.5 23.5,472.1 19.8,478.8 19.9,480.0 20.8,480.5 27.5,480.7 29.2,473.7Z" fill="#c3c6d2"/><path d="M31.9,474.1 30.8,474.1 30.1,474.8 28.8,481.4 29.1,482.9 29.8,483.6 36.9,485.6 39.8,481.0 39.8,480.0 31.9,474.1Z" fill="#c3c6d2"/><path d="M33.2,471.6 32.5,472.5 32.9,473.5 41.6,479.3 46.1,477.9 49.7,470.8 49.8,469.4 49.2,468.5 46.0,466.9 33.2,471.6Z" fill="#b8bbc9"/><path d="M47.1,478.3 49.9,485.2 50.7,485.9 56.5,485.4 59.7,480.7 59.4,479.5 51.1,472.4 49.9,473.0 47.1,478.3Z" fill="#c3c6d2"/><path d="M50.9,470.1 60.8,479.3 63.2,479.3 64.0,478.7 65.7,467.9 65.2,466.8 58.6,464.6 57.2,464.8 51.3,468.5 50.9,470.1Z" fill="#cdd0da"/><path d="M65.6,479.6 68.0,481.0 68.0,466.7 66.9,467.7 65.2,478.7 65.6,479.6Z" fill="#b8bbc9"/><path d="M5.8,481.1 4.9,479.8 -2.0,478.6 -2.0,491.3 4.0,487.8 5.8,481.1Z" fill="#c9cbd6"/><path d="M14.9,496.7 14.5,495.5 4.7,489.1 -2.0,492.7 -2.0,494.3 -0.5,498.0 14.2,498.0 14.9,496.7Z" fill="#bfc2cf"/><path d="M15.6,482.7 9.5,478.9 8.4,478.9 7.2,480.1 5.4,487.6 5.9,488.5 15.8,494.8 17.9,493.5 18.3,492.7 15.6,482.7Z" fill="#c9cbd6"/><path d="M27.9,482.8 26.9,482.0 18.4,481.4 17.1,482.1 16.8,483.2 19.6,492.3 23.1,492.0 27.9,484.0 27.9,482.8Z" fill="#c3c6d2"/><path d="M36.9,488.5 36.3,487.0 29.1,484.8 24.6,491.7 24.5,492.8 27.5,495.0 32.8,495.5 36.9,488.5Z" fill="#bfc2cf"/><path d="M44.5,493.2 44.0,491.6 38.2,489.3 37.4,489.9 34.4,496.3 35.4,497.5 36.4,497.6 43.8,494.1 44.5,493.2Z" fill="#cdd0da"/><path d="M45.6,491.1 47.2,490.6 49.1,486.5 46.4,480.2 45.3,479.6 41.4,480.7 37.9,486.9 38.5,487.9 45.6,491.1Z" fill="#bfc2cf"/><path d="M48.5,490.6 48.7,491.7 54.6,498.0 57.0,498.0 60.9,495.3 60.8,494.2 56.4,486.8 50.5,487.2 48.5,490.6Z" fill="#bfc2cf"/><path d="M57.9,485.6 57.8,486.6 61.4,493.0 62.8,493.4 63.5,492.7 66.9,482.0 64.4,480.3 61.4,480.7 57.9,485.6Z" fill="#bfc2cf"/><path d="M68.0,483.0 64.1,494.4 64.6,495.4 67.7,496.7 68.0,483.0Z" fill="#cdd0da"/><path d="M26.6,498.0 26.2,495.6 23.3,493.6 19.6,493.8 16.5,496.0 15.8,497.9 26.6,498.0Z" fill="#b8bbc9"/><path d="M33.5,497.1 28.7,496.3 27.9,496.9 27.7,498.0 34.3,498.0 33.5,497.1Z" fill="#c3c6d2"/><path d="M44.0,498.0 43.4,496.2 42.6,496.0 38.2,498.0 44.0,498.0Z" fill="#c3c6d2"/><path d="M47.8,492.4 46.3,492.4 45.1,494.4 45.1,498.0 53.1,498.0 47.8,492.4Z" fill="#c9cbd6"/><path d="M63.1,496.0 62.0,496.1 59.0,498.0 66.8,498.0 63.1,496.0Z" fill="#cdd0da"/></g><path d="M0.0 402.0 L48.0 402.0 L47.0 410.0 L41.0 416.0 L30.0 420.0 L15.0 422.0 L0.0 424.0 Z" fill="#a9a9b6" filter="url(#h1)"/><path d="M33 419 Q38 417 42 421" stroke="#8a7f78" stroke-width="2.5" fill="none" filter="url(#h1)"/><path d="M44 437 Q46 442 48 449" stroke="#5a5860" stroke-width="1.2" fill="none" filter="url(#h05)"/><path d="M46 440 L50 446 L47 449 Z" fill="#f0f0f2" filter="url(#h05)"/><path d="M52 480 Q62 486 72 489 Q85 491 95 492" stroke="#8a8088" stroke-width="2" fill="none" filter="url(#h1)"/></g>
<rect x="2.80" y="403.40000000000003" width="108.90" height="89.50" fill="none" stroke="#2e2e2e" stroke-width="1.2"/>
<g clip-path="url(#cp1)"><rect x="114.4" y="402.8" width="109.60" height="90.70" fill="#dfdbd9" /><path d="M170.5 402.0 L171.2 404.4 L176.1 408.0 L177.3 411.7 L173.6 415.3 L170.0 416.5 L167.6 418.9 L168.8 422.5 L167.6 426.2 L165.2 429.8 L161.6 431.0 L159.2 433.4 L160.4 437.0 L157.9 439.4 L154.3 440.6 L153.1 443.1 L154.3 447.9 L155.5 452.7 L153.1 453.9 L149.5 450.3 L147.1 447.9 L144.7 449.1 L142.2 452.7 L137.4 455.1 L133.0 457.0 L128.0 459.5 L125.1 462.1 L121.7 466.5 L119.5 471.0 L118.4 476.5 L118.4 482.0 L118.4 487.6 L116.2 491.0 L115.0 495.0 L110.0 495.0 L110.0 400.0 Z" fill="#ebebe9" /><path d="M170.5 402.0 L171.2 404.4 L176.1 408.0 L177.3 411.7 L173.6 415.3 L170.0 416.5 L167.6 418.9 L168.8 422.5 L167.6 426.2 L165.2 429.8 L161.6 431.0 L159.2 433.4 L160.4 437.0 L157.9 439.4 L154.3 440.6 L153.1 443.1 L154.3 447.9 L155.5 452.7 L153.1 453.9 L149.5 450.3 L147.1 447.9 L144.7 449.1 L142.2 452.7 L137.4 455.1 L133.0 457.0 L128.0 459.5 L125.1 462.1 L121.7 466.5 L119.5 471.0 L118.4 476.5 L118.4 482.0 L118.4 487.6 L116.2 491.0 L115.0 495.0 L135.0 495.0 L140.0 480.0 L150.0 470.0 L165.0 462.0 L172.0 451.8 L176.0 435.0 L180.4 419.6 L185.0 412.0 L188.0 402.0 Z" fill="#d3d0cf" filter="url(#h05)"/><path d="M170.5 402.0 L171.2 404.4 L176.1 408.0 L177.3 411.7 L173.6 415.3 L170.0 416.5 L167.6 418.9 L168.8 422.5 L167.6 426.2 L165.2 429.8 L161.6 431.0 L159.2 433.4 L160.4 437.0 L157.9 439.4 L154.3 440.6 L153.1 443.1 L154.3 447.9 L155.5 452.7 L153.1 453.9 L149.5 450.3 L147.1 447.9 L144.7 449.1 L142.2 452.7 L137.4 455.1 L133.0 457.0 L128.0 459.5 L125.1 462.1 L121.7 466.5 L119.5 471.0 L118.4 476.5 L118.4 482.0 L118.4 487.6 L116.2 491.0 L115.0 495.0" fill="none" stroke="#b0957c" stroke-width="1.8"/><clipPath id="c1m"><path d="M188.0 402.0 L230.0 402.0 L230.0 495.0 L135.0 495.0 L140.0 480.0 L150.0 470.0 L165.0 462.0 L172.0 451.8 L176.0 435.0 L180.4 419.6 L185.0 412.0 Z"/></clipPath><g clip-path="url(#c1m)"><rect x="130" y="402" width="100" height="95" fill="#cdc8c6"/><path d="M130.5,414.8 133.3,415.8 134.6,415.3 135.6,414.2 138.3,400.0 128.0,400.0 128.0,411.7 130.5,414.8Z" fill="#dcd8d6"/><path d="M137.0,413.8 137.4,415.8 138.6,417.0 143.8,418.9 145.3,418.8 146.6,418.0 149.8,414.3 150.3,413.0 149.8,400.0 139.5,400.0 137.0,413.8Z" fill="#dcd8d6"/><path d="M151.5,411.2 152.1,412.8 153.2,413.7 162.7,416.1 170.8,412.9 172.1,411.7 172.4,410.3 171.9,408.6 164.9,400.0 151.0,400.0 151.5,411.2Z" fill="#dcd8d6"/><path d="M173.6,408.8 176.2,409.9 180.3,408.2 183.4,400.0 166.4,400.0 173.6,408.8Z" fill="#dcd8d6"/><path d="M201.2,408.2 202.1,407.0 202.2,405.5 199.8,400.0 184.8,400.0 182.4,407.1 183.6,409.6 191.4,414.0 193.0,413.6 201.2,408.2Z" fill="#dcd8d6"/><path d="M202.9,403.7 204.3,405.1 206.5,405.3 213.1,400.0 201.1,400.0 202.9,403.7Z" fill="#dcd8d6"/><path d="M216.7,417.5 218.7,417.2 220.1,415.8 223.3,400.0 214.9,400.0 207.5,406.8 207.4,408.6 208.0,409.9 213.8,416.4 216.7,417.5Z" fill="#dcd8d6"/><path d="M222.1,412.2 222.4,414.2 223.6,415.4 225.3,415.7 228.0,415.0 228.0,400.0 224.5,400.0 222.1,412.2Z" fill="#dcd8d6"/><path d="M129.0,418.0 129.3,415.7 128.0,413.6 128.0,419.8 129.0,418.0Z" fill="#dcd8d6"/><path d="M128.1,432.6 135.2,434.3 137.4,433.7 144.5,426.9 144.8,422.6 144.3,421.0 143.2,420.0 135.9,417.3 132.4,417.0 130.9,417.6 128.0,422.2 128.1,432.6Z" fill="#dcd8d6"/><path d="M160.0,434.8 161.6,434.1 162.6,432.3 162.1,418.5 160.1,416.8 152.7,414.9 151.0,415.2 146.2,420.5 146.4,426.3 156.4,434.4 160.0,434.8Z" fill="#dcd8d6"/><path d="M163.9,431.4 164.4,432.8 165.5,433.8 168.1,433.8 175.2,426.5 175.5,425.0 174.2,416.8 172.7,414.7 170.1,414.6 165.1,416.6 163.9,417.9 163.9,431.4Z" fill="#dcd8d6"/><path d="M176.6,411.1 175.4,412.3 175.0,414.0 176.6,424.2 177.4,425.7 189.9,430.4 192.6,429.7 193.6,427.1 190.7,415.6 181.7,410.0 179.9,409.9 176.6,411.1Z" fill="#dcd8d6"/><path d="M205.9,409.3 204.1,408.5 202.4,408.8 193.1,415.5 192.7,417.2 194.3,424.8 195.9,426.8 198.7,426.8 211.1,418.0 211.4,416.6 211.0,415.1 205.9,409.3Z" fill="#dcd8d6"/><path d="M197.9,428.8 196.9,430.5 197.1,432.5 199.9,436.1 201.8,436.9 212.0,436.6 220.5,433.0 222.1,430.7 219.2,420.5 217.9,419.2 214.7,418.3 212.8,418.8 197.9,428.8Z" fill="#dcd8d6"/><path d="M222.5,417.9 221.2,419.0 220.7,420.7 222.8,428.0 225.0,429.6 228.0,428.9 228.0,416.2 222.5,417.9Z" fill="#dcd8d6"/><path d="M136.8,450.3 138.2,449.2 138.7,447.5 136.2,436.8 134.3,435.3 129.9,434.3 128.2,434.6 128.0,453.1 136.8,450.3Z" fill="#dcd8d6"/><path d="M143.0,450.9 144.7,451.0 146.4,450.0 154.8,436.8 154.7,435.3 153.9,434.1 146.3,428.7 143.8,429.4 138.3,434.5 137.6,436.0 140.2,448.5 141.2,450.0 143.0,450.9Z" fill="#dcd8d6"/><path d="M148.4,449.2 148.1,451.2 149.1,452.9 156.6,457.1 158.3,457.5 159.8,456.9 170.1,449.4 170.9,448.2 171.0,446.8 165.5,437.2 163.0,436.1 158.4,436.0 156.4,437.1 148.4,449.2Z" fill="#dcd8d6"/><path d="M168.4,435.6 167.7,437.2 168.1,438.9 172.0,445.4 174.6,446.5 176.4,445.6 186.8,435.2 187.7,432.5 185.9,430.3 176.9,427.6 175.4,428.3 168.4,435.6Z" fill="#dcd8d6"/><path d="M195.8,453.2 197.1,452.4 197.8,451.1 199.5,438.1 195.6,432.6 192.9,431.7 191.1,432.6 179.9,443.7 179.1,446.4 180.8,448.6 193.8,453.2 195.8,453.2Z" fill="#dcd8d6"/><path d="M199.4,448.7 199.8,450.5 201.4,451.7 210.0,452.7 211.9,452.0 213.0,449.5 211.8,440.6 211.0,439.0 208.7,438.0 203.1,438.1 201.5,438.9 200.6,440.4 199.4,448.7Z" fill="#dcd8d6"/><path d="M214.1,448.0 215.7,450.0 218.2,450.0 226.4,442.9 226.7,440.3 223.2,434.8 220.5,434.4 214.4,437.0 213.3,438.0 212.9,439.7 214.1,448.0Z" fill="#dcd8d6"/><path d="M228.0,430.2 225.0,432.0 224.6,434.0 228.0,440.0 228.0,430.2Z" fill="#dcd8d6"/><path d="M142.7,454.3 142.0,451.9 139.6,450.9 128.0,454.5 128.0,466.4 129.2,467.0 135.5,467.9 139.4,466.2 140.4,464.8 142.7,454.3Z" fill="#dcd8d6"/><path d="M147.8,453.6 145.7,453.5 144.0,454.9 141.7,464.7 142.6,467.0 146.8,469.6 149.1,468.8 156.0,462.2 156.7,460.3 156.3,458.9 155.4,457.8 147.8,453.6Z" fill="#dcd8d6"/><path d="M160.3,458.0 159.4,459.6 159.5,461.4 166.7,474.5 168.1,475.0 169.5,474.8 176.6,472.0 178.3,470.5 178.7,467.8 173.5,453.2 172.4,451.8 171.1,451.2 169.4,451.5 160.3,458.0Z" fill="#dcd8d6"/><path d="M178.2,449.0 176.4,449.0 175.2,449.9 174.6,451.1 174.5,452.6 179.5,466.6 181.1,467.9 182.9,468.0 184.4,467.1 191.3,457.7 191.7,455.2 190.1,453.2 178.2,449.0Z" fill="#dcd8d6"/><path d="M198.1,457.5 196.0,456.0 193.5,456.8 185.3,468.4 185.5,469.8 186.5,471.2 195.5,476.2 198.0,475.4 202.4,471.1 203.0,469.5 198.1,457.5Z" fill="#dcd8d6"/><path d="M202.1,453.1 199.8,454.2 199.2,456.7 204.8,468.8 206.4,469.4 211.6,469.3 217.2,465.7 217.9,464.4 217.8,462.9 214.0,454.8 212.4,454.2 202.1,453.1Z" fill="#dcd8d6"/><path d="M216.9,452.9 216.1,454.5 216.2,455.9 219.8,464.0 221.3,464.8 225.6,465.3 228.0,464.3 228.0,443.8 216.9,452.9Z" fill="#dcd8d6"/><path d="M133.9,469.0 128.0,468.2 128.2,481.2 130.2,482.8 135.9,482.8 137.2,481.7 137.6,480.0 135.7,470.6 133.9,469.0Z" fill="#dcd8d6"/><path d="M141.8,468.0 140.4,467.5 138.7,467.9 137.4,469.2 137.0,470.6 138.9,479.6 140.0,481.0 141.6,481.5 146.1,479.9 147.5,477.5 146.5,471.9 141.8,468.0Z" fill="#dcd8d6"/><path d="M165.4,477.7 165.3,475.1 160.0,464.9 158.4,463.7 157.0,463.6 155.6,464.2 148.3,471.8 148.7,477.5 149.7,479.3 159.5,483.3 161.2,483.4 162.7,482.6 165.4,477.7Z" fill="#dcd8d6"/><path d="M177.8,475.7 176.5,474.5 174.9,474.1 167.6,476.9 163.2,484.7 163.2,486.6 164.0,487.9 171.6,493.7 174.2,493.5 181.0,489.4 182.0,488.1 182.1,486.1 177.8,475.7Z" fill="#dcd8d6"/><path d="M181.0,470.6 179.1,471.7 178.5,474.2 183.8,486.8 186.2,487.8 193.3,487.7 194.9,487.1 196.0,484.7 195.9,479.4 195.1,477.8 183.4,470.8 181.0,470.6Z" fill="#dcd8d6"/><path d="M197.3,487.4 198.2,489.2 202.8,492.2 213.1,490.4 214.8,489.5 215.5,486.8 211.9,472.9 211.0,471.4 209.3,470.7 204.7,470.9 197.8,477.3 197.1,479.0 197.3,487.4Z" fill="#dcd8d6"/><path d="M214.1,469.3 213.2,470.4 213.0,472.1 215.9,483.7 216.8,485.2 218.1,485.8 219.8,485.8 228.0,480.7 228.0,475.7 226.4,468.4 225.5,467.0 224.2,466.4 219.8,465.9 214.1,469.3Z" fill="#dcd8d6"/><path d="M138.4,486.8 137.7,485.3 136.2,484.4 129.6,484.1 128.0,484.5 128.0,498.0 140.6,498.0 138.4,486.8Z" fill="#dcd8d6"/><path d="M141.2,483.2 139.9,484.4 139.6,486.1 141.9,498.0 153.0,498.0 161.2,488.0 161.0,486.0 159.9,484.8 149.3,480.6 147.6,480.7 141.2,483.2Z" fill="#dcd8d6"/><path d="M164.8,490.1 163.1,489.7 161.4,490.3 154.5,498.0 172.7,498.0 171.4,495.3 164.8,490.1Z" fill="#dcd8d6"/><path d="M184.4,489.1 174.8,494.6 173.9,496.1 174.0,498.0 188.1,498.0 192.2,493.6 192.7,492.2 192.5,490.8 191.6,489.7 190.3,489.1 184.4,489.1Z" fill="#dcd8d6"/><path d="M201.5,494.9 200.3,492.4 198.7,491.3 197.0,491.2 195.7,491.9 189.8,498.0 201.4,498.0 201.5,494.9Z" fill="#dcd8d6"/><path d="M220.3,498.0 215.1,491.8 213.7,491.6 204.6,493.3 202.9,494.9 202.6,498.0 220.3,498.0Z" fill="#dcd8d6"/><path d="M218.2,488.2 217.0,489.9 217.1,491.7 221.9,498.0 228.0,498.0 228.0,482.4 218.2,488.2Z" fill="#dcd8d6"/></g></g>
<rect x="115.00" y="403.40000000000003" width="108.40" height="89.50" fill="none" stroke="#2e2e2e" stroke-width="1.2"/>
<g clip-path="url(#cp2)"><rect x="226.2" y="402.8" width="109.60" height="90.70" fill="#d8d5cf" /><path d="M226.6,407.2 228.1,408.2 229.5,408.3 233.1,406.1 234.0,404.5 233.9,400.0 224.0,400.0 224.0,403.8 226.6,407.2Z" fill="#aaa6a0"/><path d="M242.4,401.8 241.8,404.3 243.5,406.3 250.2,408.5 251.8,408.1 253.0,406.8 253.3,405.2 252.2,400.0 243.7,400.0 242.4,401.8Z" fill="#b2aea8"/><path d="M255.9,407.8 257.1,409.4 259.1,409.9 264.2,407.3 265.3,405.3 265.3,401.6 264.6,400.0 254.2,400.0 255.9,407.8Z" fill="#aeaaa4"/><path d="M267.3,402.9 268.6,405.0 271.1,405.5 278.7,400.0 267.4,400.0 267.3,402.9Z" fill="#a7a39d"/><path d="M286.5,402.8 286.1,401.3 285.0,400.2 282.1,400.0 273.4,406.5 272.7,408.2 273.0,409.9 275.4,412.1 279.8,413.4 284.1,412.6 285.6,410.6 286.5,402.8Z" fill="#a7a39d"/><path d="M300.4,406.1 295.0,400.0 292.4,400.0 289.9,401.0 288.6,402.7 287.7,411.4 288.7,413.1 291.3,414.6 293.9,414.2 299.9,410.1 300.8,408.6 300.4,406.1Z" fill="#aaa6a0"/><path d="M303.5,406.7 305.0,407.7 306.5,407.7 309.9,405.6 310.8,404.1 311.5,400.0 297.9,400.0 303.5,406.7Z" fill="#aeaaa4"/><path d="M313.0,403.0 313.3,404.5 314.3,405.7 323.0,409.5 325.5,409.0 326.9,406.6 326.7,404.8 324.2,400.0 313.6,400.0 313.0,403.0Z" fill="#aeaaa4"/><path d="M326.5,400.0 328.6,403.0 330.7,403.2 336.7,400.0 326.5,400.0Z" fill="#aeaaa4"/><path d="M327.3,410.6 327.4,412.6 328.9,414.3 339.0,415.7 339.0,402.5 336.5,402.4 329.8,406.3 327.3,410.6Z" fill="#a7a39d"/><path d="M230.7,415.3 229.1,414.5 227.7,414.6 226.2,415.6 225.6,417.2 225.9,431.2 226.8,432.9 228.6,433.8 230.3,433.5 238.3,429.5 239.7,427.4 239.2,425.2 230.7,415.3Z" fill="#b2aea8"/><path d="M232.2,409.2 231.1,411.3 231.8,413.5 242.2,425.5 244.1,426.1 245.9,425.4 251.8,414.7 252.0,413.2 251.3,411.5 238.3,406.7 235.5,407.1 232.2,409.2Z" fill="#aeaaa4"/><path d="M248.6,425.1 248.8,427.7 250.8,429.2 260.4,428.3 262.2,427.3 262.8,424.8 259.7,415.0 258.7,413.5 256.5,412.9 254.5,414.0 248.6,425.1Z" fill="#aaa6a0"/><path d="M264.2,422.5 266.4,424.3 268.8,423.7 272.9,414.8 272.9,413.3 272.1,412.1 269.0,409.5 267.4,408.8 265.6,409.0 262.7,410.5 261.4,412.4 264.2,422.5Z" fill="#b2aea8"/><path d="M274.4,430.3 277.0,430.2 278.6,428.1 279.2,419.6 278.5,418.1 276.8,417.0 275.1,417.2 273.8,418.3 270.6,425.8 271.1,428.3 274.4,430.3Z" fill="#b2aea8"/><path d="M291.8,418.0 290.8,416.7 286.5,414.4 283.3,415.0 281.9,416.1 280.4,430.1 281.8,432.5 283.4,433.1 287.6,432.8 293.2,426.5 293.7,424.2 291.8,418.0Z" fill="#aaa6a0"/><path d="M295.2,415.8 294.3,417.0 294.2,418.7 295.6,423.3 297.0,424.8 303.8,425.9 308.3,423.0 308.7,421.1 306.9,412.7 305.3,410.7 303.9,410.4 302.5,410.8 295.2,415.8Z" fill="#aeaaa4"/><path d="M310.6,420.0 312.4,421.9 315.0,421.7 322.6,415.9 323.4,414.0 322.9,412.3 321.6,411.2 313.0,407.4 310.5,407.6 309.0,409.0 308.5,410.7 310.6,420.0Z" fill="#b2aea8"/><path d="M317.9,422.0 317.0,423.5 317.0,424.9 317.7,426.2 319.1,427.1 324.1,427.6 326.5,425.7 327.1,424.5 326.7,420.0 324.7,418.3 322.4,418.7 317.9,422.0Z" fill="#aaa6a0"/><path d="M331.9,416.8 330.0,417.4 329.0,418.8 329.5,424.3 335.1,428.8 337.9,428.9 339.0,428.0 339.0,417.8 331.9,416.8Z" fill="#aeaaa4"/><path d="M229.3,438.0 228.2,437.1 226.7,436.8 224.0,438.4 224.0,448.7 225.9,448.4 231.3,444.2 231.5,441.9 229.3,438.0Z" fill="#b2aea8"/><path d="M232.9,434.4 231.8,435.7 231.5,437.4 234.1,442.4 235.4,443.5 238.8,444.5 240.9,443.2 245.6,434.4 246.0,432.5 244.9,430.5 242.5,429.9 232.9,434.4Z" fill="#b2aea8"/><path d="M243.2,443.2 243.1,445.0 244.0,446.5 248.6,447.8 250.6,446.7 252.4,443.8 252.7,442.1 252.1,440.7 250.0,438.4 247.8,437.6 245.7,438.7 243.2,443.2Z" fill="#aaa6a0"/><path d="M252.3,431.2 250.2,432.9 249.9,434.3 250.5,435.9 255.4,441.2 258.5,442.2 260.4,441.6 261.6,439.3 261.8,433.4 261.2,431.7 259.1,430.6 252.3,431.2Z" fill="#aaa6a0"/><path d="M266.8,429.0 264.9,429.8 264.0,431.3 263.7,441.4 265.2,443.3 270.0,445.2 271.7,445.1 273.5,443.6 276.7,436.7 276.7,434.9 275.3,433.1 268.4,429.3 266.8,429.0Z" fill="#b2aea8"/><path d="M281.3,435.0 279.0,436.5 274.1,448.0 274.5,449.4 275.5,450.4 282.6,453.5 284.3,452.9 292.3,446.5 293.2,444.1 287.8,435.8 286.2,435.1 281.3,435.0Z" fill="#b2aea8"/><path d="M303.4,445.8 305.3,444.8 306.0,442.9 303.6,429.6 301.5,427.7 295.8,427.2 290.6,432.7 290.1,434.1 290.3,435.6 296.2,444.1 301.2,445.8 303.4,445.8Z" fill="#b2aea8"/><path d="M313.7,442.1 315.2,441.1 315.7,439.7 315.2,428.6 313.2,425.4 310.5,424.6 306.5,426.9 305.8,428.2 305.7,429.6 308.1,441.4 310.3,442.7 313.7,442.1Z" fill="#aeaaa4"/><path d="M323.4,442.5 324.8,441.5 325.4,439.8 323.9,431.7 322.4,429.9 319.5,429.6 318.0,430.6 317.5,432.0 317.9,440.1 319.5,442.0 323.4,442.5Z" fill="#b2aea8"/><path d="M327.5,439.7 329.1,441.6 331.9,441.4 336.9,434.6 336.8,433.1 335.9,431.9 329.2,427.4 327.0,428.0 325.8,430.1 327.5,439.7Z" fill="#a7a39d"/><path d="M334.5,441.7 334.0,443.5 334.5,444.9 336.6,448.3 339.0,449.7 339.0,437.1 337.3,438.0 334.5,441.7Z" fill="#aaa6a0"/><path d="M224.0,460.0 225.1,459.0 225.6,457.3 224.0,452.9 224.0,460.0Z" fill="#aaa6a0"/><path d="M228.0,457.0 229.0,458.1 230.4,458.6 235.1,458.4 236.9,457.5 237.6,456.3 238.9,449.4 238.0,447.0 235.3,445.7 233.6,445.7 227.0,450.1 226.2,452.6 228.0,457.0Z" fill="#aaa6a0"/><path d="M252.2,461.4 253.2,460.0 253.2,458.3 249.5,450.8 248.3,450.1 244.0,449.0 241.6,449.7 240.7,451.1 239.5,457.5 240.3,459.9 245.0,463.8 246.3,464.3 248.0,464.0 252.2,461.4Z" fill="#a7a39d"/><path d="M256.5,456.7 256.8,458.7 258.3,460.1 262.9,460.7 264.4,460.4 271.4,451.8 271.9,450.1 271.5,448.7 270.3,447.5 263.7,444.9 261.2,445.0 259.8,446.5 256.5,456.7Z" fill="#b2aea8"/><path d="M275.8,452.8 274.1,452.7 272.8,453.4 266.8,461.0 266.6,463.2 268.1,466.2 271.2,468.0 285.4,468.0 286.1,466.5 286.0,465.1 282.3,456.4 275.8,452.8Z" fill="#aeaaa4"/><path d="M287.6,463.6 288.8,464.9 290.3,465.2 291.9,464.7 292.9,463.7 298.2,451.2 298.0,449.2 296.8,447.9 295.4,447.5 293.7,448.0 285.2,455.0 285.0,457.3 287.6,463.6Z" fill="#b2aea8"/><path d="M305.6,451.9 304.5,450.6 302.9,450.1 301.5,450.5 300.3,451.7 295.2,463.5 295.3,465.3 296.6,466.8 299.9,468.0 302.4,468.0 307.5,466.8 309.1,465.6 309.5,463.3 305.6,451.9Z" fill="#aeaaa4"/><path d="M308.7,445.3 307.1,446.5 306.7,448.5 311.9,463.9 313.9,465.6 317.6,465.5 318.8,464.6 319.5,463.3 320.8,445.7 319.6,444.3 317.1,443.6 308.7,445.3Z" fill="#b2aea8"/><path d="M321.8,460.8 322.3,462.4 323.8,463.6 325.8,463.6 327.4,462.3 334.3,450.1 334.1,448.1 331.4,444.3 326.9,443.7 324.8,444.3 323.5,445.4 321.8,460.8Z" fill="#b2aea8"/><path d="M329.3,462.9 329.3,465.4 331.6,467.1 333.0,467.0 339.0,464.2 339.0,452.9 337.0,452.3 334.9,453.3 329.3,462.9Z" fill="#aaa6a0"/><path d="M227.0,465.5 226.2,463.3 224.0,462.4 224.0,468.0 227.0,468.0 227.0,465.5Z" fill="#a7a39d"/><path d="M244.4,467.9 243.5,465.3 237.8,460.6 231.4,460.6 230.1,461.3 229.2,462.6 229.0,468.0 244.4,467.9Z" fill="#a7a39d"/><path d="M250.1,465.1 249.1,466.5 248.9,468.0 266.4,468.0 264.7,464.1 262.7,462.8 255.4,462.1 250.1,465.1Z" fill="#b2aea8"/><rect x="226" y="452" width="112" height="14" fill="#bdb6ac" opacity="0.55" filter="url(#h1)"/><circle cx="273.7" cy="450.9" r="0.8" fill="#6e5a48" opacity="0.8"/><circle cx="314.1" cy="448.8" r="0.6" fill="#6e5a48" opacity="0.8"/><circle cx="294.4" cy="453.0" r="1.0" fill="#6e5a48" opacity="0.8"/><circle cx="278.0" cy="454.2" r="1.3" fill="#6e5a48" opacity="0.8"/><circle cx="248.7" cy="455.4" r="0.7" fill="#6e5a48" opacity="0.8"/><circle cx="295.1" cy="453.0" r="0.8" fill="#6e5a48" opacity="0.8"/><circle cx="307.2" cy="453.8" r="1.0" fill="#6e5a48" opacity="0.8"/><circle cx="323.9" cy="449.8" r="0.6" fill="#6e5a48" opacity="0.8"/><circle cx="252.3" cy="461.8" r="1.0" fill="#6e5a48" opacity="0.8"/><circle cx="253.2" cy="454.0" r="0.7" fill="#6e5a48" opacity="0.8"/><circle cx="276.7" cy="448.8" r="1.1" fill="#6e5a48" opacity="0.8"/><circle cx="323.0" cy="465.2" r="1.1" fill="#6e5a48" opacity="0.8"/><circle cx="329.7" cy="448.3" r="0.8" fill="#6e5a48" opacity="0.8"/><circle cx="330.4" cy="462.0" r="0.9" fill="#6e5a48" opacity="0.8"/><circle cx="328.0" cy="459.2" r="1.2" fill="#6e5a48" opacity="0.8"/><circle cx="259.1" cy="451.4" r="0.9" fill="#6e5a48" opacity="0.8"/><path d="M226.0 462.0 L250.0 461.0 L275.0 464.0 L300.0 461.0 L336.0 459.0 L336.0 481.5 L320.0 482.3 L302.0 483.1 L290.0 486.0 L276.0 488.1 L260.0 487.5 L251.0 486.4 L240.0 484.0 L226.0 482.3 Z" fill="#aea496" filter="url(#h1)"/><path d="M226 478 Q250 484 276 486 Q300 482 336 479" stroke="#a29684" stroke-width="4" fill="none" filter="url(#h1)"/><path d="M226.0 482.3 L240.0 484.0 L251.0 486.4 L260.0 487.5 L276.0 488.1 L290.0 486.0 L302.0 483.1 L320.0 482.3 L336.0 481.5 L336.0 495.0 L226.0 495.0 Z" fill="#d5d1c9" filter="url(#h05)"/></g>
<rect x="226.80" y="403.40000000000003" width="108.40" height="89.50" fill="none" stroke="#2e2e2e" stroke-width="1.2"/>
<g clip-path="url(#cp3)"><rect x="338.1" y="402.8" width="109.50" height="90.70" fill="#d2beb2" /><clipPath id="c3m"><path d="M338.0 402.0 L398.0 402.0 L390.0 409.0 L382.9 413.7 L379.9 425.4 L377.0 439.0 L374.1 450.8 L371.1 464.4 L367.2 478.1 L363.3 491.8 L362.5 496.0 L338.0 496.0 Z"/></clipPath><g clip-path="url(#c3m)"><rect x="338" y="402" width="60" height="95" fill="#c8ab96"/><g transform="rotate(20 365 450)"><rect x="320" y="390" width="100" height="120" filter="url(#fib_w)"/><rect x="320" y="390" width="100" height="120" filter="url(#fib_b)" opacity="0.7"/></g><ellipse cx="349" cy="418" rx="6" ry="7" fill="#d0b8aa" stroke="#eadfd8" stroke-width="1" opacity="0.85"/><ellipse cx="359" cy="421" rx="5.5" ry="6" fill="#d0b8aa" stroke="#eadfd8" stroke-width="1" opacity="0.85"/><ellipse cx="352" cy="432" rx="5" ry="5.5" fill="#d0b8aa" stroke="#eadfd8" stroke-width="1" opacity="0.85"/><ellipse cx="346" cy="444" rx="5" ry="6" fill="#d0b8aa" stroke="#eadfd8" stroke-width="1" opacity="0.85"/></g><path d="M394.6 437.0 L390.0 447.0 L386.8 458.6 L383.0 470.0 L380.0 478.0 L377.1 485.7 L376.5 496.0 L449.0 496.0 L449.0 436.0 L446.0 440.0 L446.0 460.0 L442.0 472.0 L432.0 481.0 L419.5 483.3 L406.4 477.6 L401.0 472.0 L399.0 466.2 L399.0 437.0 Z" fill="#eee5dc" filter="url(#h05)"/><path d="M382.9 413.7 L379.9 425.4 L377.0 439.0 L374.1 450.8 L371.1 464.4 L367.2 478.1 L363.3 491.8 L362.5 496.0 L376.5 496.0 L377.1 485.7 L380.0 478.0 L383.0 470.0 L386.8 458.6 L390.0 447.0 L394.6 437.0 L398.0 434.0 L404.0 426.0 L407.0 418.0 L404.0 412.0 L396.0 409.5 L388.0 410.5 Z" fill="#a57656" filter="url(#h05)"/><path d="M400.0 414.0 L399.5 466.0 L402.0 474.0 L406.4 477.6 L419.5 483.3 L432.5 480.0 L442.3 471.1 L445.6 458.0 L445.6 445.0 L442.0 436.0 L442.0 430.0 L449.0 424.0 L449.0 412.0 L440.0 418.0 L428.0 420.0 L412.0 414.0 Z" fill="#aa7e5e" filter="url(#h05)"/><path d="M410.0 402.0 L426.0 402.0 L425.0 420.0 L423.0 430.0 L424.0 438.0 L428.0 446.0 L429.5 455.0 L428.0 463.0 L424.0 468.5 L417.0 467.5 L412.0 461.0 L410.0 450.0 Z" fill="#d0bbae" filter="url(#h05)"/><path d="M428.0 402.0 L441.0 402.0 L448.0 413.0 L448.0 434.0 L441.0 429.0 L433.0 418.0 Z" fill="#a67959" filter="url(#h05)"/><path d="M441.5 402.0 L448.0 402.0 L448.0 411.0 Z" fill="#ede3d9" /><path d="M434 445 Q440 447 446 451" stroke="#f2ede8" stroke-width="2.2" fill="none" filter="url(#h05)"/><path d="M399 440 L399 466 Q402 482 419 484 Q438 482 446 466 L446.5 446" stroke="#d9c6b9" stroke-width="1.4" fill="none" opacity="0.9"/></g>
<rect x="338.70" y="403.40000000000003" width="108.30" height="89.50" fill="none" stroke="#2e2e2e" stroke-width="1.2"/>
<g clip-path="url(#cp4)"><rect x="449.6" y="402.8" width="110.10" height="90.70" fill="#c6c6cc" /><rect x="449" y="402" width="112" height="95" filter="url(#vn_s)" opacity="0.7"/><ellipse cx="467" cy="423" rx="17" ry="21" transform="rotate(-8 467 423)" fill="#8a7661" filter="url(#h1)"/><ellipse cx="469" cy="425" rx="8" ry="11" fill="#9a8a78" opacity="0.7" filter="url(#h2)"/><ellipse cx="508" cy="413" rx="11" ry="11" fill="#8f806f" filter="url(#h1)"/><path d="M492.0 433.0 L530.0 432.0 L561.0 438.0 L561.0 464.7 L540.0 478.0 L511.5 496.0 L449.0 496.0 L449.0 458.0 L470.0 458.0 L482.0 452.0 Z" fill="#8a7560" filter="url(#h1)"/><path d="M451 452 Q470 449 490 447" stroke="#eeecea" stroke-width="4" fill="none" filter="url(#h1)"/><clipPath id="c4a"><ellipse cx="467" cy="423" rx="17" ry="21" transform="rotate(-8 467 423)"/></clipPath><g clip-path="url(#c4a)"><rect x="449" y="402" width="112" height="95" filter="url(#mt_d)" opacity="0.5"/><rect x="449" y="402" width="112" height="95" filter="url(#sp_d)" opacity="0.6"/></g><clipPath id="c4b"><ellipse cx="508" cy="413" rx="11" ry="11"/></clipPath><g clip-path="url(#c4b)"><rect x="449" y="402" width="112" height="95" filter="url(#mt_d)" opacity="0.5"/><rect x="449" y="402" width="112" height="95" filter="url(#sp_d)" opacity="0.6"/></g><clipPath id="c4c"><path d="M492.0 433.0 L530.0 432.0 L561.0 438.0 L561.0 464.7 L540.0 478.0 L511.5 496.0 L449.0 496.0 L449.0 458.0 L470.0 458.0 L482.0 452.0 Z"/></clipPath><g clip-path="url(#c4c)"><rect x="449" y="402" width="112" height="95" filter="url(#mt_d)" opacity="0.5"/><rect x="449" y="402" width="112" height="95" filter="url(#sp_d)" opacity="0.6"/></g><circle cx="528.2" cy="429.2" r="0.7" fill="#6e5a48" opacity="0.7"/><circle cx="545.4" cy="411.7" r="0.7" fill="#6e5a48" opacity="0.7"/><circle cx="556.0" cy="414.2" r="1.0" fill="#6e5a48" opacity="0.7"/><circle cx="536.5" cy="419.1" r="0.9" fill="#6e5a48" opacity="0.7"/><circle cx="526.9" cy="426.6" r="0.7" fill="#6e5a48" opacity="0.7"/><circle cx="528.4" cy="410.4" r="0.8" fill="#6e5a48" opacity="0.7"/><circle cx="534.7" cy="428.0" r="0.8" fill="#6e5a48" opacity="0.7"/><circle cx="524.1" cy="415.2" r="1.2" fill="#6e5a48" opacity="0.7"/><circle cx="522.3" cy="422.4" r="0.8" fill="#6e5a48" opacity="0.7"/><circle cx="543.8" cy="416.8" r="1.0" fill="#6e5a48" opacity="0.7"/><circle cx="537.9" cy="423.0" r="1.1" fill="#6e5a48" opacity="0.7"/><circle cx="540.9" cy="412.8" r="0.6" fill="#6e5a48" opacity="0.7"/><circle cx="554.1" cy="419.8" r="0.7" fill="#6e5a48" opacity="0.7"/><circle cx="554.1" cy="421.6" r="1.0" fill="#6e5a48" opacity="0.7"/></g>
<rect x="450.20" y="403.40000000000003" width="108.90" height="89.50" fill="none" stroke="#2e2e2e" stroke-width="1.2"/>
<g clip-path="url(#cp5)"><rect x="561.9" y="402.8" width="110.60" height="90.70" fill="#88725a" /><rect x="561" y="402" width="112" height="95" filter="url(#mt_g)" opacity="0.5"/><path d="M576.0 403.0 L609.0 403.0 L606.0 412.0 L592.0 420.0 L578.0 418.0 Z" fill="#968d8e" filter="url(#h2)" opacity="0.6"/><path d="M586.0 430.0 L597.0 428.0 L600.0 450.0 L598.0 470.0 L600.0 494.0 L586.0 494.0 L588.0 470.0 Z" fill="#968d8e" filter="url(#h2)" opacity="0.6"/><path d="M634.0 410.0 L652.0 412.0 L654.0 440.0 L648.0 458.0 L636.0 450.0 Z" fill="#968d8e" filter="url(#h2)" opacity="0.6"/><path d="M598.0 446.0 L612.0 448.0 L626.0 458.0 L622.0 466.0 L604.0 458.0 Z" fill="#968d8e" filter="url(#h2)" opacity="0.6"/><path d="M562.0 421.0 L570.0 419.0 L580.0 428.0 L578.0 450.0 L581.0 470.0 L575.0 482.0 L562.0 480.0 Z" fill="#aea8aa" filter="url(#h2)"/><clipPath id="c5a"><path d="M562.0 421.0 L570.0 419.0 L580.0 428.0 L578.0 450.0 L581.0 470.0 L575.0 482.0 L562.0 480.0 Z"/></clipPath><g clip-path="url(#c5a)"><rect x="560" y="402" width="115" height="95" filter="url(#sp_w3)" opacity="0.4"/></g><path d="M653.0 424.0 L673.0 420.0 L673.0 454.0 L658.0 452.0 Z" fill="#aca4a2" filter="url(#h2)"/><clipPath id="c5c"><path d="M653.0 424.0 L673.0 420.0 L673.0 454.0 L658.0 452.0 Z"/></clipPath><g clip-path="url(#c5c)"><rect x="560" y="402" width="115" height="95" filter="url(#sp_w3)" opacity="0.4"/></g><path d="M624.0 462.0 L640.0 456.0 L660.0 452.0 L673.0 450.0 L673.0 496.0 L622.0 496.0 L616.0 482.0 Z" fill="#84705a" filter="url(#h1)"/><clipPath id="c5b"><path d="M624.0 462.0 L640.0 456.0 L660.0 452.0 L673.0 450.0 L673.0 496.0 L622.0 496.0 L616.0 482.0 Z"/></clipPath><g clip-path="url(#c5b)"><rect x="600" y="440" width="75" height="60" filter="url(#cw_w)"/></g><ellipse cx="567" cy="436" rx="4" ry="7" fill="#e8e6e6" filter="url(#h1)"/><path d="M613 414 Q618 425 616 446" stroke="#b9a88f" stroke-width="5" fill="none" filter="url(#h1)"/><path d="M617 418 Q619 428 616 440" stroke="#ece6de" stroke-width="1.3" fill="none"/><rect x="561" y="402" width="112" height="95" filter="url(#sp_d)" opacity="0.5"/><path d="M658.5 471 L659.5 485" stroke="#f4f2f0" stroke-width="3.5" filter="url(#h05)"/></g>
<rect x="562.50" y="403.40000000000003" width="109.40" height="89.50" fill="none" stroke="#2e2e2e" stroke-width="1.2"/></svg></body></html>
